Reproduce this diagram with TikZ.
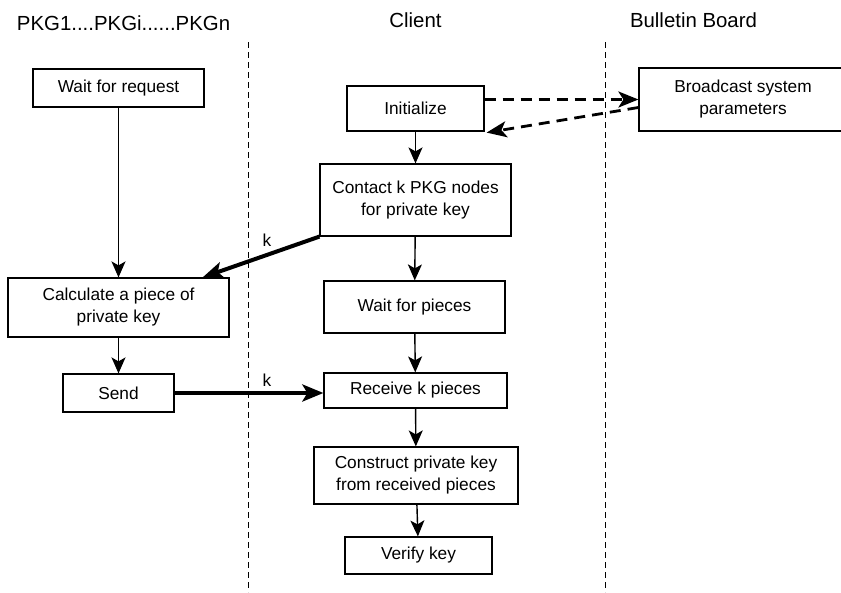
\documentclass[tikz,border=0pt]{standalone}
\usepackage{fontspec}
\setmainfont{Liberation Sans}
\usetikzlibrary{arrows.meta, positioning}
\tikzset{
>={Stealth[length=16pt, width=14pt, inset=4pt]}, % arrow heads of the thin connectors
->, % makes the connectors directed
x=1pt, y=-1pt, % one unit is one pixel of the picture, y runs down
box/.style={draw, line width=1.2pt, align=center, inner sep=0pt, font=\fontsize{17.3}{22}\selectfont}, % every step of the protocol
head/.style={font=\fontsize{20.4}{24}\selectfont, anchor=base}, % titles of the columns
lane/.style={-, line width=1pt, dash pattern=on 6pt off 4pt}, % borders between the columns
flow/.style={line width=1.4pt},
heavy/.style={line width=4pt, -{Stealth[length=21pt, width=17pt, inset=5pt]}}, % messages between PKG and client
bcast/.style={line width=2.8pt, dash pattern=on 11pt off 7pt, -{Stealth[length=20pt, width=16pt, inset=5pt]}},
klabel/.style={font=\fontsize{17.3}{20}\selectfont, inner sep=1pt},
}

\begin{document}
\begin{tikzpicture}
        \useasboundingbox (0,0) rectangle (841,592);
        \clip (0,0) rectangle (841,592);

        \node[head] (pkgs) at (123.5,30) {PKG1....PKGi......PKGn};
        \node[head] (client) at (415.5,27) {Client};
        \node[head] (board) at (693.5,27) {Bulletin Board};

        \coordinate (lane1top) at (248,42);
        \coordinate (lane1bot) at (248,592);
        \coordinate (lane2top) at (605,42);
        \coordinate (lane2bot) at (605,592);

        % PKG column
        \node[box, minimum width=171pt, minimum height=38pt] (req) at (118.5,88) {Wait for request};
        \node[box, minimum width=221pt, minimum height=59pt] (calc) at (118.5,307.5) {Calculate a piece of\\private key};
        \node[box, minimum width=111pt, minimum height=38pt] (send) at (118.5,393) {Send};

        % client column
        \node[box, minimum width=137pt, minimum height=45pt] (init) at (415.5,108.5) {Initialize};
        \node[box, minimum width=191pt, minimum height=72pt] (contact) at (415.5,200) {Contact k PKG nodes\\for private key};
        \node[box, minimum width=181pt, minimum height=52pt] (waitp) at (414.5,307) {Wait for pieces};
        \node[box, minimum width=183pt, minimum height=35pt] (recv) at (415.5,390.5) {Receive k pieces};
        \node[box, minimum width=204pt, minimum height=57pt] (constr) at (416,475.5) {Construct private key\\from received pieces};
        \node[box, minimum width=147pt, minimum height=37pt] (verify) at (418.5,555.5) {Verify key};

        % bulletin board column
        \node[box, minimum width=208pt, minimum height=63pt] (bb) at (743,99.5) {Broadcast system\\parameters};

        \path (lane1top) edge[lane] (lane1bot)
        (lane2top) edge[lane] (lane2bot);

        \path (req) edge[flow] (calc)
        (calc) edge[flow] (send)
        (init) edge[flow] (contact)
        (contact) edge[flow] (waitp)
        (waitp) edge[flow] (recv)
        (recv) edge[flow] (constr)
        (constr) edge[flow] (verify);

        \path (contact.south west) edge[heavy] node[klabel, pos=0.45, above=5pt] {k} ([xshift=-27pt]calc.north east)
        (send.east) edge[heavy] node[klabel, pos=0.62, above=4pt] {k} (send.east -| recv.west);

        \path (init.east |- bb.west) edge[bcast] (bb.west)
        ([yshift=-8pt]bb.west) edge[bcast] ([xshift=2pt, yshift=-1pt]init.south east);
      \end{tikzpicture}
\end{document}
